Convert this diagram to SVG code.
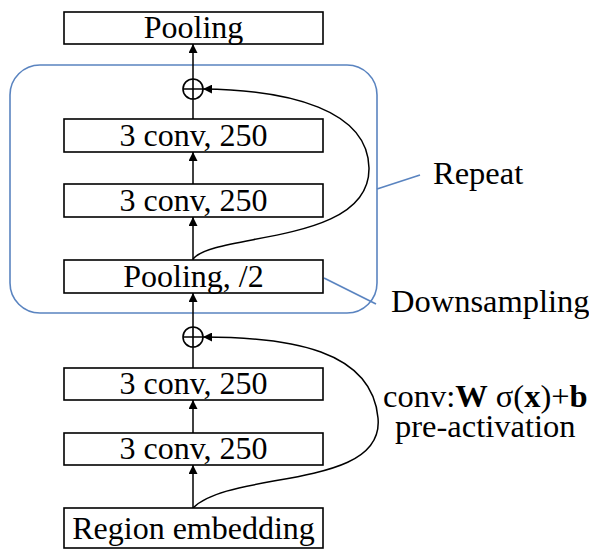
<svg xmlns="http://www.w3.org/2000/svg" width="589" height="550" viewBox="0 0 589 550">
<style>
.box{fill:#fff;stroke:#000;stroke-width:1.6}
.t{font-family:'Liberation Serif','DejaVu Serif',serif;font-size:32px;fill:#000;text-anchor:middle}
.lbl{font-family:'Liberation Serif','DejaVu Serif',serif;font-size:32.5px;fill:#000}
.ln{stroke:#000;stroke-width:1.5;fill:none}
.blue{stroke:#5a84c0;stroke-width:1.6;fill:none}
</style>
<defs>
<marker id="ah" viewBox="0 0 10 10" refX="10" refY="5" markerWidth="9" markerHeight="9" markerUnits="userSpaceOnUse" orient="auto">
<path d="M0,0 L10,5 L0,10 Z" fill="#000"/>
</marker>
</defs>
<rect id="repeat-region" x="10" y="65" width="367" height="248" rx="30" class="blue"/>
<g id="connectors">
<line class="ln" x1="193" y1="79" x2="193" y2="44" marker-end="url(#ah)"/>
<line class="ln" x1="193" y1="119" x2="193" y2="99"/>
<line class="ln" x1="193" y1="184" x2="193" y2="152" marker-end="url(#ah)"/>
<line class="ln" x1="193" y1="260" x2="193" y2="217" marker-end="url(#ah)"/>
<line class="ln" x1="193" y1="327" x2="193" y2="293" marker-end="url(#ah)"/>
<line class="ln" x1="193" y1="368" x2="193" y2="347"/>
<line class="ln" x1="193" y1="433" x2="193" y2="400" marker-end="url(#ah)"/>
<line class="ln" x1="193" y1="508" x2="193" y2="465" marker-end="url(#ah)"/>
<path class="ln" d="M193,259 C215,232 370,245 369,168 C368,110 290,90 203,89" marker-end="url(#ah)"/>
<path class="ln" d="M193,508 C230,470 385,490 378,418 C372,350 290,337 203,337" marker-end="url(#ah)"/>
<line class="blue" x1="377" y1="189" x2="420" y2="175"/>
<line class="blue" x1="324" y1="278" x2="376" y2="304"/>
</g>
<g id="pool-top"><rect class="box" x="64" y="12" width="259" height="32"/><text class="t" x="193.5" y="38">Pooling</text></g>
<g id="add-top"><circle cx="193" cy="89" r="10" fill="#fff" stroke="#000" stroke-width="1.6"/><path d="M183,89 H203 M193,79 V99" stroke="#000" stroke-width="1.6"/></g>
<g id="conv-a1"><rect class="box" x="64" y="119" width="259" height="33"/><text class="t" x="193.5" y="146">3 conv, 250</text></g>
<g id="conv-a2"><rect class="box" x="64" y="184" width="259" height="33"/><text class="t" x="193.5" y="211">3 conv, 250</text></g>
<g id="pool-half"><rect class="box" x="64" y="260" width="259" height="33"/><text class="t" x="193.5" y="287">Pooling, /2</text></g>
<g id="add-bottom"><circle cx="193" cy="337" r="10" fill="#fff" stroke="#000" stroke-width="1.6"/><path d="M183,337 H203 M193,327 V347" stroke="#000" stroke-width="1.6"/></g>
<g id="conv-b1"><rect class="box" x="64" y="368" width="259" height="32"/><text class="t" x="193.5" y="394">3 conv, 250</text></g>
<g id="conv-b2"><rect class="box" x="64" y="433" width="259" height="32"/><text class="t" x="193.5" y="459">3 conv, 250</text></g>
<g id="region"><rect class="box" x="64" y="508" width="259" height="40"/><text class="t" x="193.5" y="539">Region embedding</text></g>
<g id="labels">
<text class="lbl" x="433" y="184">Repeat</text>
<text class="lbl" x="391" y="312">Downsampling</text>
<text class="lbl" x="383" y="407">conv:<tspan font-weight="bold">W</tspan> σ(<tspan font-weight="bold">x</tspan>)+<tspan font-weight="bold">b</tspan></text>
<text class="lbl" x="395" y="437">pre-activation</text>
</g>
</svg>
